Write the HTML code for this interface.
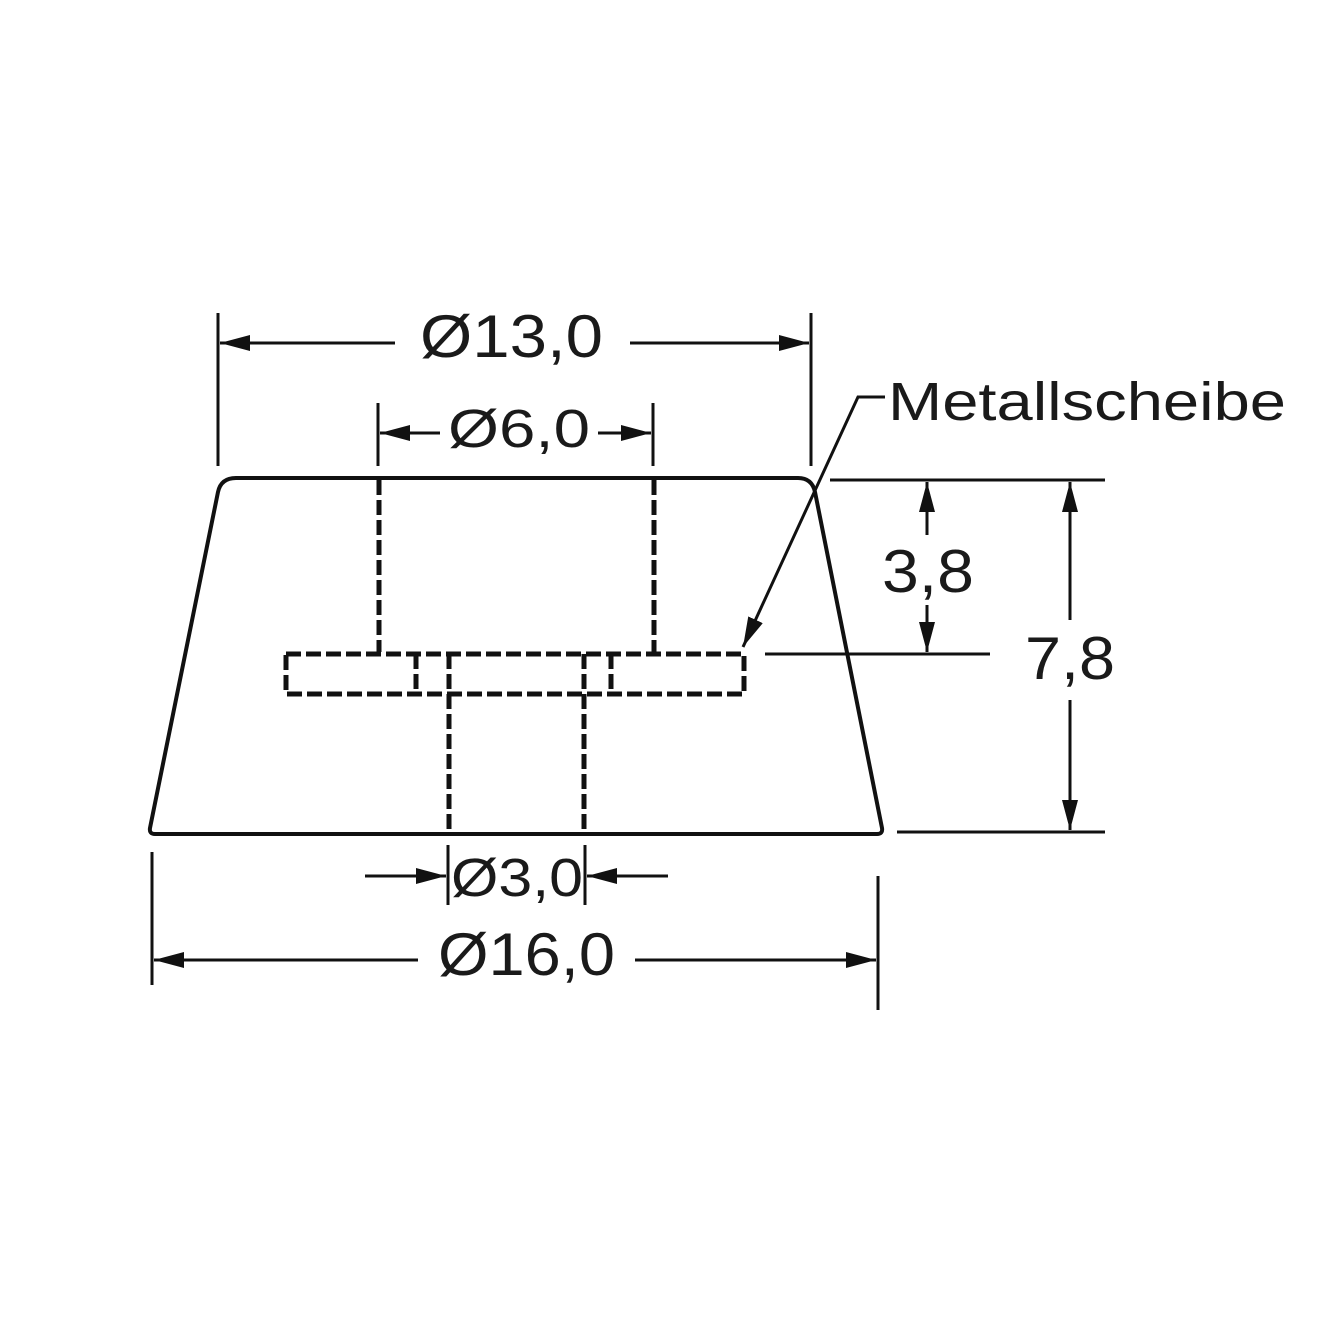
<!DOCTYPE html>
<html><head><meta charset="utf-8"><style>html,body{margin:0;padding:0;background:#fff}svg{display:block}</style></head>
<body>
<svg width="1333" height="1333" viewBox="0 0 1333 1333" xmlns="http://www.w3.org/2000/svg" font-family="Liberation Sans, Arial, sans-serif" fill="#1a1a1a">
<defs>
<marker id="a" viewBox="0 0 30 16" refX="30" refY="8" markerWidth="30" markerHeight="16" markerUnits="userSpaceOnUse" orient="auto"><path d="M0,0L30,8L0,16z" fill="#111"/></marker>
</defs>
<g stroke="#111" stroke-width="4" fill="none">
<path d="M236,478 L798,478 Q812,478 815,492 L882,828 Q883,834 877,834 L155,834 Q149,834 150,828 L218,492 Q221,478 236,478 Z"/>
</g>
<g stroke="#111" stroke-width="5" fill="none" stroke-dasharray="15,5">
<line x1="379" y1="480" x2="379" y2="652"/>
<line x1="654" y1="480" x2="654" y2="652"/>
<rect x="286" y="654" width="458" height="40"/>
<line x1="416" y1="654" x2="416" y2="694"/>
<line x1="611" y1="654" x2="611" y2="694"/>
<line x1="449" y1="654" x2="449" y2="832"/>
<line x1="584" y1="654" x2="584" y2="832"/>
</g>
<g stroke="#111" stroke-width="3" fill="none">
<line x1="218" y1="313" x2="218" y2="466"/>
<line x1="811" y1="313" x2="811" y2="466"/>
<line x1="378" y1="403" x2="378" y2="466"/>
<line x1="653" y1="403" x2="653" y2="466"/>
<line x1="152" y1="852" x2="152" y2="985"/>
<line x1="878" y1="876" x2="878" y2="1010"/>
<line x1="448" y1="845" x2="448" y2="905"/>
<line x1="585" y1="845" x2="585" y2="905"/>
<line x1="830" y1="480" x2="1105" y2="480"/>
<line x1="897" y1="832" x2="1105" y2="832"/>
<line x1="765" y1="654" x2="990" y2="654"/>
<line x1="395" y1="343" x2="220" y2="343" marker-end="url(#a)"/>
<line x1="630" y1="343" x2="809" y2="343" marker-end="url(#a)"/>
<line x1="440" y1="433" x2="380" y2="433" marker-end="url(#a)"/>
<line x1="598" y1="433" x2="651" y2="433" marker-end="url(#a)"/>
<line x1="418" y1="960" x2="154" y2="960" marker-end="url(#a)"/>
<line x1="635" y1="960" x2="876" y2="960" marker-end="url(#a)"/>
<line x1="365" y1="876" x2="446" y2="876" marker-end="url(#a)"/>
<line x1="668" y1="876" x2="587" y2="876" marker-end="url(#a)"/>
<line x1="927" y1="535" x2="927" y2="482" marker-end="url(#a)"/>
<line x1="927" y1="605" x2="927" y2="652" marker-end="url(#a)"/>
<line x1="1070" y1="620" x2="1070" y2="482" marker-end="url(#a)"/>
<line x1="1070" y1="700" x2="1070" y2="830" marker-end="url(#a)"/>
<polyline points="885,397 858,397 743,647" marker-end="url(#a)"/>
</g>
<g font-size="60">
<text x="420" y="357" textLength="183" lengthAdjust="spacingAndGlyphs">Ø13,0</text>
<text x="448" y="447" font-size="54" textLength="142" lengthAdjust="spacingAndGlyphs">Ø6,0</text>
<text x="438" y="975" textLength="177" lengthAdjust="spacingAndGlyphs">Ø16,0</text>
<text x="451" y="896" font-size="54" textLength="132" lengthAdjust="spacingAndGlyphs">Ø3,0</text>
<text x="882" y="592" textLength="92" lengthAdjust="spacingAndGlyphs">3,8</text>
<text x="1025" y="679" textLength="90" lengthAdjust="spacingAndGlyphs">7,8</text>
<text x="888" y="420" font-size="54" textLength="398" lengthAdjust="spacingAndGlyphs">Metallscheibe</text>
</g>
</svg>
</body></html>
